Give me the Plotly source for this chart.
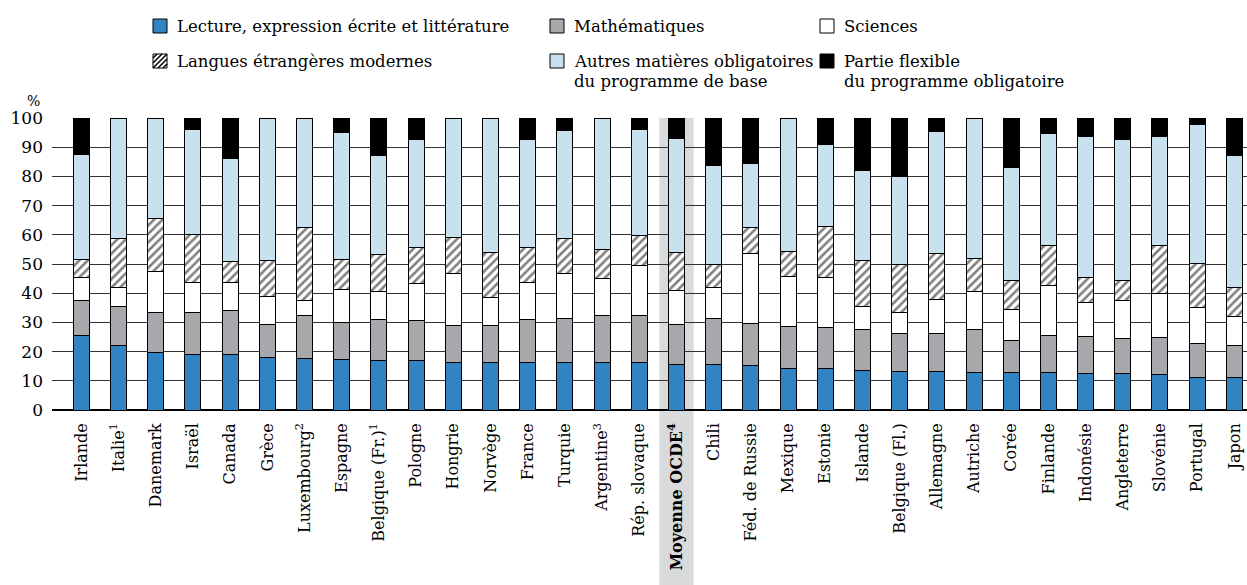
import plotly.graph_objects as go

countries = ["Irlande", "Italie<sup>1</sup>", "Danemark", "Israël", "Canada", "Grèce",
             "Luxembourg<sup>2</sup>", "Espagne", "Belgique (Fr.)<sup>1</sup>", "Pologne",
             "Hongrie", "Norvège", "France", "Turquie", "Argentine<sup>3</sup>", "Rép. slovaque",
             "<b>Moyenne OCDE<sup>4</sup></b>", "Chili", "Féd. de Russie", "Mexique", "Estonie",
             "Islande", "Belgique (Fl.)", "Allemagne", "Autriche", "Corée", "Finlande",
             "Indonésie", "Angleterre", "Slovénie", "Portugal", "Japon"]

lecture = [25.6, 22.1, 19.8, 19.1, 19.1, 18.0, 17.8, 17.4, 17.1, 16.9, 16.4, 16.3, 16.1, 16.1, 16.1, 16.1,
           15.7, 15.7, 15.1, 14.1, 14.1, 13.7, 13.2, 13.2, 13.0, 12.8, 12.8, 12.4, 12.4, 12.2, 11.3, 11.0]
maths = [12.0, 13.3, 13.5, 14.4, 15.0, 11.4, 14.7, 12.7, 14.0, 13.9, 12.4, 12.7, 14.8, 15.4, 16.1, 16.1,
         13.5, 15.7, 14.6, 14.4, 14.1, 13.7, 13.1, 13.1, 14.4, 10.9, 12.8, 12.7, 12.2, 12.6, 11.5, 11.1]
sciences = [7.7, 6.7, 14.3, 10.0, 9.6, 9.4, 5.1, 11.1, 9.4, 12.6, 17.9, 9.6, 12.6, 15.3, 12.9, 17.2,
            11.8, 10.6, 23.9, 17.1, 17.1, 8.1, 7.0, 11.6, 13.3, 10.7, 17.0, 11.7, 13.0, 15.1, 12.3, 9.9]
langues = [6.4, 16.8, 18.0, 16.6, 7.2, 12.5, 24.9, 10.5, 12.6, 12.1, 12.5, 15.3, 12.2, 12.1, 9.7, 10.4,
           12.9, 7.9, 8.8, 8.7, 17.6, 15.8, 16.6, 15.7, 11.2, 10.0, 13.9, 8.5, 6.8, 16.6, 15.1, 10.1]
autres = [35.8, 41.1, 34.4, 36.1, 35.4, 48.7, 37.5, 43.2, 34.1, 37.0, 40.8, 46.1, 36.8, 36.7, 45.2, 36.4,
          39.0, 34.0, 22.0, 45.7, 28.1, 30.7, 30.1, 41.8, 48.1, 38.5, 38.1, 48.5, 48.4, 37.0, 47.6, 44.9]
flexible = [12.5, 0.0, 0.0, 3.8, 13.7, 0.0, 0.0, 5.1, 12.8, 7.5, 0.0, 0.0, 7.5, 4.4, 0.0, 3.8,
            7.1, 16.1, 15.6, 0.0, 9.0, 18.0, 20.0, 4.6, 0.0, 17.1, 5.4, 6.2, 7.2, 6.5, 2.2, 13.0]

yticks = [0, 10, 20, 30, 40, 50, 60, 70, 80, 90, 100]

FONT = "DejaVu Serif"
BLUE = "#3283C2"
GRAY = "#A7A8AB"
LIGHT = "#C9E0EF"

x = list(range(len(countries)))
series = [
    ("Lecture, expression écrite et littérature", lecture, dict(color=BLUE)),
    ("Mathématiques", maths, dict(color=GRAY)),
    ("Sciences", sciences, dict(color="white")),
    ("Langues étrangères modernes", langues,
     dict(color="white", pattern=dict(shape="/", fgcolor="black", bgcolor="white", size=6, solidity=0.42))),
    ("Autres matières obligatoires du programme de base", autres, dict(color=LIGHT)),
    ("Partie flexible du programme obligatoire", flexible, dict(color="black")),
]

fig = go.Figure()
for name, vals, mk in series:
    mk = dict(mk)
    mk["line"] = dict(color="black", width=1)
    fig.add_trace(go.Bar(x=x, y=vals, name=name, marker=mk, width=0.43, showlegend=False,
                         hoverinfo="skip"))

W, H = 1247, 585
L, R, T, B = 52, 0, 118, 585 - 410
PW, PH = W - L - R, H - T - B


def px(v):  # pixel -> paper x
    return (v - L) / PW


def py(v):  # pixel -> paper y
    return (H - B - v) / PH


shapes = []
# highlighted OECD average column
shapes.append(dict(type="rect", xref="x", yref="paper", x0=15.54, x1=16.46, y0=py(600), y1=1,
                   fillcolor="#D9DADC", line=dict(width=0), layer="below"))

annotations = [dict(text="%", x=px(25), y=py(91), xref="paper", yref="paper", showarrow=False,
                    font=dict(family=FONT, size=14, color="black"))]

legend_items = [
    (153, 26, BLUE, False, ["Lecture, expression écrite et littérature"]),
    (550, 26, GRAY, False, ["Mathématiques"]),
    (820, 26, "white", False, ["Sciences"]),
    (153, 61, "white", True, ["Langues étrangères modernes"]),
    (550, 61, LIGHT, False, ["Autres matières obligatoires", "du programme de base"]),
    (820, 61, "black", False, ["Partie flexible", "du programme obligatoire"]),
]
S = 14
for (lx, cy, col, hatch, lines) in legend_items:
    x0, x1, y0, y1 = lx, lx + S, cy - S / 2, cy + S / 2
    shapes.append(dict(type="rect", xref="paper", yref="paper", x0=px(x0), x1=px(x1), y0=py(y1), y1=py(y0),
                       fillcolor=col, line=dict(color="black", width=1)))
    if hatch:
        path = ""
        for k in range(-2, 3):
            off = k * 5
            ax, ay = x0 + off, y1
            bx, by = x1 + off, y0
            if ax < x0:
                ay -= (x0 - ax); ax = x0
            if bx > x1:
                by += (bx - x1); bx = x1
            if ax >= bx:
                continue
            path += f"M{px(ax)},{py(ay)} L{px(bx)},{py(by)} "
        shapes.append(dict(type="path", xref="paper", yref="paper", path=path,
                           line=dict(color="black", width=1.5)))
    for i, t in enumerate(lines):
        annotations.append(dict(text=t, x=px(lx + S + 8), y=py(cy + i * 21), xref="paper", yref="paper",
                                xanchor="left", yanchor="middle", showarrow=False,
                                font=dict(family=FONT, size=16.5, color="black")))

fig.update_layout(
    width=W, height=H,
    margin=dict(l=L, r=R, t=T, b=B, pad=0),
    barmode="stack",
    paper_bgcolor="white", plot_bgcolor="rgba(0,0,0,0)",
    font=dict(family=FONT, color="black"),
    shapes=shapes,
    annotations=annotations,
    showlegend=False,
    hovermode=False,
)
fig.update_xaxes(range=[-0.79, 31.34], tickmode="array", tickvals=x, ticktext=countries,
                 tickangle=-90, tickfont=dict(family=FONT, size=16, color="black"),
                 showgrid=False, zeroline=False, showline=False, ticks="", ticklabelstandoff=9,
                 ticklabeloverflow="allow")
fig.update_yaxes(range=[0, 100], tickmode="array", tickvals=yticks, ticktext=[str(v) for v in yticks],
                 tickfont=dict(family=FONT, size=17, color="black"),
                 showgrid=True, gridcolor="#333333", gridwidth=1.4,
                 zeroline=True, zerolinecolor="black", zerolinewidth=1.5,
                 showline=False, ticks="", ticklabelstandoff=8)

# remove the default page margin so the figure fills the window exactly
fig.write_html("out.html",
               config={"displayModeBar": False},
               post_script="document.body.style.margin='0';"
                           "document.body.style.overflow='hidden';"
                           "document.documentElement.style.overflow='hidden';")
